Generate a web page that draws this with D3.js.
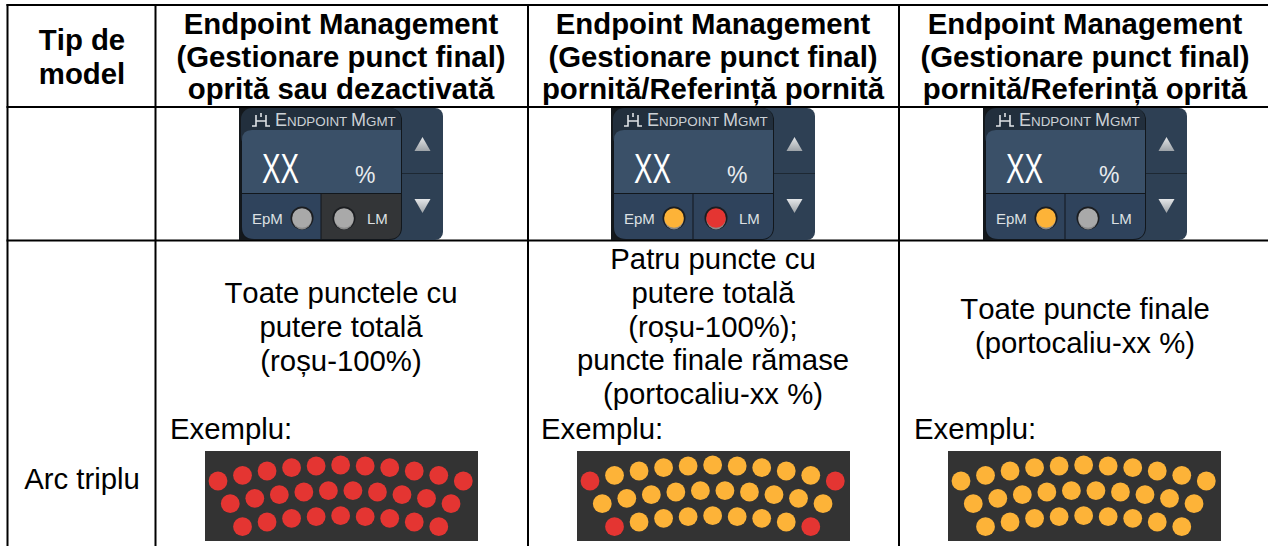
<!DOCTYPE html>
<html>
<head>
<meta charset="utf-8">
<script src="https://cdn.jsdelivr.net/npm/d3@7"></script>
<style>
  html, body { margin: 0; padding: 0; background: #fff; }
  svg { display: block; }
  text { font-family: "Liberation Sans", Arial, sans-serif; fill: #000; font-kerning: none; }
</style>
</head>
<body>
<script>
// table text
var headers = [
  ['Endpoint Management', '(Gestionare punct final)', 'oprită sau dezactivată'],
  ['Endpoint Management', '(Gestionare punct final)', 'pornită/Referință pornită'],
  ['Endpoint Management', '(Gestionare punct final)', 'pornită/Referință oprită']
]
var firstHeader = ['Tip de', 'model']
var bodyLines = [
  ['Toate punctele cu', 'putere totală', '(roșu-100%)'],
  ['Patru puncte cu', 'putere totală', '(roșu-100%);', 'puncte finale rămase', '(portocaliu-xx %)'],
  ['Toate puncte finale', '(portocaliu-xx %)']
]
var rowName = 'Arc triplu'
var exampleLabel = 'Exemplu:'

// led state per column: [EpM, LM, LM cell]
var epmState = ['off', 'orange', 'orange']
var lmState = ['off', 'red', 'off']
var lmCellDark = [true, false, false]

// dot grid, column index (half steps) and depth from top of the strip
var row1Cols = [0, 2, 4, 6, 8, 10, 12, 14, 16, 18, 20]
var row1Depth = [30, 24.3, 20, 16.7, 15, 14, 15, 16.7, 20, 24.3, 30]
var row2Cols = [1, 3, 5, 7, 9, 11, 13, 15, 17, 19]
var row2Depth = [52.7, 47.3, 43.7, 41, 39.7, 39.7, 41, 43.7, 47.3, 52.7]
var row3Cols = [2, 4, 6, 8, 10, 12, 14, 16, 18]
var row3Depth = [75.7, 71, 67.3, 65.7, 64.7, 65.7, 67.3, 71, 75.7]

// which dots are at full power, per column of the table
var redDots = [
  'all',
  ['1-0', '1-20', '3-2', '3-18'],
  []
]

var colors = { red: '#e43532', orange: '#fdb338', off: '#a9a9a9' }

var width = 1268, height = 546

// table layout
var gridX = [7.5, 155.5, 528, 899]
var gridY = [5, 107, 240.5]
var colCenter = [341, 713, 1085]
var bodyFirstBase = [303, 269, 319]
var exampleX = [170, 541, 914]
var stripX = [205, 577, 948]
var panelX = [239, 611, 983]

var svg = d3.select('body').append('svg')
  .attr('width', width)
  .attr('height', height)

var defs = svg.append('defs')
var arrow = defs.append('linearGradient').attr('id', 'arrow').attr('x1', 0).attr('x2', 0).attr('y1', 0).attr('y2', 1)
arrow.append('stop').attr('offset', 0).attr('stop-color', '#e4e6e8')
arrow.append('stop').attr('offset', 1).attr('stop-color', '#9da3a8')
defs.append('filter').attr('id', 'soft')
  .append('feGaussianBlur').attr('stdDeviation', 0.45)

// grid lines
svg.selectAll('.h').data(gridY).enter()
  .append('line')
  .attr('class', 'h')
  .attr('x1', 6.5).attr('x2', width)
  .attr('y1', d => d).attr('y2', d => d)
  .attr('stroke', '#000').attr('stroke-width', 2)

svg.selectAll('.v').data(gridX).enter()
  .append('line')
  .attr('class', 'v')
  .attr('x1', d => d).attr('x2', d => d)
  .attr('y1', 4).attr('y2', height)
  .attr('stroke', '#000').attr('stroke-width', 2)

// first column
svg.selectAll('.first').data(firstHeader).enter()
  .append('text')
  .attr('class', 'first')
  .attr('x', 82)
  .attr('y', (d, i) => 50 + i * 33.5)
  .attr('text-anchor', 'middle')
  .attr('font-size', 29.33)
  .attr('font-weight', 700)
  .text(d => d)

svg.append('text')
  .attr('x', 82)
  .attr('y', 489)
  .attr('text-anchor', 'middle')
  .attr('font-size', 29.33)
  .text(rowName)

// header cells
var head = svg.selectAll('.head').data(headers).enter()
  .append('g')
  .attr('class', 'head')
  .attr('transform', (d, i) => 'translate(' + colCenter[i] + ',0)')

head.selectAll('text').data(d => d).enter()
  .append('text')
  .attr('y', (d, i) => 34 + i * 32.7)
  .attr('text-anchor', 'middle')
  .attr('font-size', 29.33)
  .attr('font-weight', 700)
  .text(d => d)

// body cells
var body = svg.selectAll('.body').data(bodyLines).enter()
  .append('g')
  .attr('class', 'body')
  .attr('transform', (d, i) => 'translate(' + colCenter[i] + ',' + bodyFirstBase[i] + ')')

body.selectAll('text').data(d => d).enter()
  .append('text')
  .attr('y', (d, i) => i * 33.75)
  .attr('text-anchor', 'middle')
  .attr('font-size', 29.33)
  .text(d => d)

svg.selectAll('.example').data(exampleX).enter()
  .append('text')
  .attr('class', 'example')
  .attr('x', d => d)
  .attr('y', 438.5)
  .attr('font-size', 29.33)
  .text(exampleLabel)

// dots
var dotX = d3.scaleLinear().domain([0, 20]).range([13, 258.3])
var dotY = d3.scaleLinear().domain([0, 90]).range([0, 90])

function rowData(cols, depth, row) {
  return cols.map((c, i) => ({ key: row + '-' + c, col: c, depth: depth[i] }))
}

var allDots = rowData(row1Cols, row1Depth, 1)
  .concat(rowData(row2Cols, row2Depth, 2))
  .concat(rowData(row3Cols, row3Depth, 3))

stripX.forEach(function(x, n) {
  var strip = svg.append('g').attr('transform', 'translate(' + x + ',451)')

  strip.append('rect')
    .attr('width', 273)
    .attr('height', 90)
    .attr('fill', '#333')

  strip.selectAll('circle').data(allDots).enter()
    .append('circle')
    .attr('cx', d => dotX(d.col))
    .attr('cy', d => dotY(d.depth))
    .attr('r', 9.4)
    .attr('filter', 'url(#soft)')
    .attr('fill', d => (redDots[n] === 'all' || redDots[n].indexOf(d.key) >= 0) ? colors.red : colors.orange)
})

// control panel
function led(g, x, state) {
  g.append('circle').attr('cx', x).attr('cy', 110).attr('r', 11.5).attr('fill', '#1b1d20')
  g.append('circle').attr('cx', x).attr('cy', 111.8).attr('r', 9.6).attr('fill', '#8a8a8a')
  g.append('circle').attr('cx', x).attr('cy', 110).attr('r', 9.8).attr('fill', colors[state])
}

panelX.forEach(function(x, n) {
  var g = svg.append('g').attr('transform', 'translate(' + x + ',108)')

  g.append('rect').attr('width', 204).attr('height', 132).attr('rx', 8).attr('fill', '#2e4054')
  g.append('rect').attr('x', 0).attr('y', 0).attr('width', 30).attr('height', 132).attr('fill', '#14181c')
  g.append('rect').attr('x', 2).attr('y', 0).attr('width', 161).attr('height', 132).attr('rx', 12).attr('fill', '#12171c')
  g.append('rect').attr('x', 2).attr('y', 0).attr('width', 160).attr('height', 40).attr('rx', 11).attr('fill', '#222f3d')

  // main value area
  g.append('path')
    .attr('d', 'M3,85V32Q3,22 13,22H162V85Z')
    .attr('fill', '#3a5068')

  // bottom cells
  g.append('path')
    .attr('d', 'M3,86H81.5V131H15Q3,131 3,119Z')
    .attr('fill', '#2f435c')
  g.append('path')
    .attr('d', 'M82.5,86H162V119Q162,131 150,131H82.5Z')
    .attr('fill', lmCellDark[n] ? '#333537' : '#2f435c')

  // right strip divider
  g.append('line').attr('x1', 163).attr('x2', 204).attr('y1', 65.5).attr('y2', 65.5)
    .attr('stroke', '#1d2833').attr('stroke-width', 1)

  // arrows
  g.append('path').attr('d', 'M183.5,29L191.5,43H175.5Z').attr('fill', 'url(#arrow)')
  g.append('path').attr('d', 'M175.5,91H191.5L183.5,105Z').attr('fill', 'url(#arrow)')

  // title
  g.append('path')
    .attr('d', 'M17,7V18H13M27,7V18H31M17,13H27M22,5V9')
    .attr('fill', 'none')
    .attr('stroke', '#dfe2e5')
    .attr('stroke-width', 1.6)

  var title = g.append('text')
    .attr('x', 36)
    .attr('y', 18)
    .style('fill', '#ccd1d6')
    .attr('font-size', 13.4)
  title.append('tspan').attr('font-size', 18).text('E')
  title.append('tspan').text('NDPOINT ')
  title.append('tspan').attr('font-size', 18).text('M')
  title.append('tspan').text('GMT')

  // value
  g.append('text')
    .attr('x', 23)
    .attr('y', 75)
    .attr('font-size', 42)
    .attr('textLength', 37)
    .attr('lengthAdjust', 'spacingAndGlyphs')
    .style('fill', '#fff')
    .text('XX')

  g.append('text')
    .attr('x', 116)
    .attr('y', 75)
    .attr('font-size', 23)
    .style('fill', '#e8ebee')
    .text('%')

  // leds
  g.append('text').attr('x', 13).attr('y', 115.5).attr('font-size', 15).style('fill', '#dde0e3').text('EpM')
  g.append('text').attr('x', 128).attr('y', 115.5).attr('font-size', 15).style('fill', '#dde0e3').text('LM')
  led(g, 63, epmState[n])
  led(g, 105, lmState[n])
})
</script>
</body>
</html>
